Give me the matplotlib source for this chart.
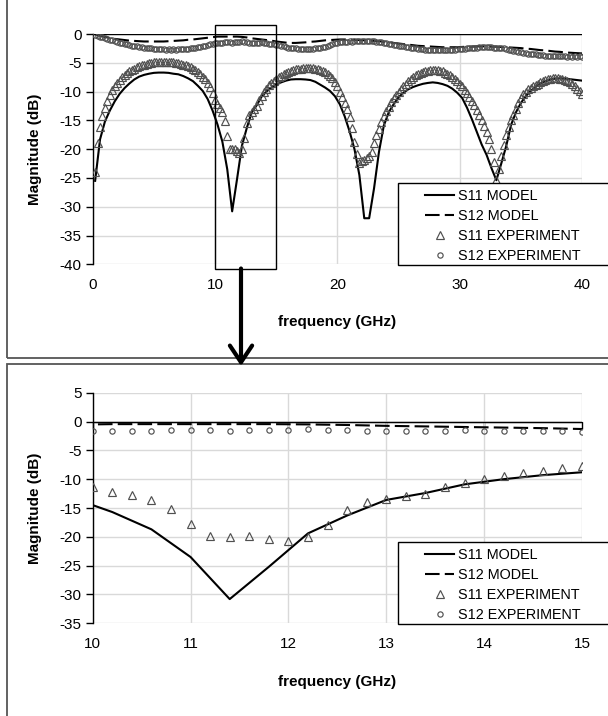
import numpy as np
import matplotlib
matplotlib.use("Agg")
import matplotlib.pyplot as plt
from matplotlib.patches import Rectangle, FancyArrowPatch
from matplotlib.lines import Line2D

plt.rcParams['font.family'] = ['Liberation Sans', 'DejaVu Sans']

# ---------------- data ----------------
model_freq = np.round(np.arange(0.2, 40.21, 0.4), 1)   # GHz
exp_freq = np.round(np.arange(0.2, 40.01, 0.2), 1)     # GHz

s11_model = [
    -25.5, -18.3, -15.2, -13.3, -11.7, -10.4, -9.4, -8.6, -7.9, -7.4,
    -7.1, -6.9, -6.75, -6.7, -6.7, -6.75, -6.9, -7.0, -7.3, -7.7,
    -8.2, -9.0, -9.9, -11.3, -13.3, -15.7, -18.7, -23.5, -30.8, -25.2,
    -19.4, -16.3, -13.6, -12.4, -10.9, -10.0, -9.3, -8.8, -8.4, -8.1,
    -7.9, -7.85, -7.85, -7.9, -8.0, -8.3, -8.8, -9.3, -9.9, -10.8,
    -12.2, -14.3, -16.9, -20.0, -24.5, -32.0, -32.0, -26.8, -20.5, -15.9,
    -13.6, -12.2, -11.0, -10.2, -9.6, -9.2, -8.9, -8.65, -8.5, -8.4,
    -8.5, -8.7, -9.0, -9.5, -10.2, -11.1, -12.8, -14.8, -17.0, -19.2,
    -21.0, -23.3, -25.4, -22.5, -19.5, -15.8, -13.6, -12.0, -10.8, -9.9,
    -9.2, -8.6, -8.2, -7.9, -7.75, -7.7, -7.75, -7.85, -7.95, -8.05,
    -8.15]

s12_model = [
    -0.1, -0.3, -0.5, -0.7, -0.85, -0.95, -1.05, -1.15, -1.2, -1.25,
    -1.3, -1.3, -1.3, -1.3, -1.3, -1.25, -1.2, -1.15, -1.1, -1.0,
    -0.95, -0.85, -0.75, -0.65, -0.55, -0.45, -0.45, -0.45, -0.45, -0.45,
    -0.5, -0.6, -0.75, -0.85, -0.95, -1.05, -1.15, -1.3, -1.4, -1.5,
    -1.55, -1.55, -1.5, -1.45, -1.35, -1.3, -1.2, -1.1, -1.05, -1.0,
    -0.95, -0.95, -0.95, -1.0, -1.05, -1.1, -1.15, -1.2, -1.25, -1.35,
    -1.45, -1.55, -1.65, -1.75, -1.85, -1.95, -2.05, -2.1, -2.15, -2.2,
    -2.25, -2.3, -2.3, -2.3, -2.3, -2.25, -2.2, -2.2, -2.15, -2.15,
    -2.15, -2.2, -2.2, -2.25, -2.3, -2.35, -2.4, -2.45, -2.55, -2.6,
    -2.7, -2.8, -2.85, -2.95, -3.05, -3.1, -3.2, -3.25, -3.3, -3.35,
    -3.4]

s11_exp = [
    -23.9, -19.0, -16.2, -14.3, -12.9, -11.6, -10.6, -9.7, -9.0, -8.5,
    -8.0, -7.5, -7.1, -6.8, -6.5, -6.25, -6.0, -5.8, -5.6, -5.45,
    -5.3, -5.2, -5.1, -5.0, -4.95, -4.9, -4.9, -4.85, -4.85, -4.85,
    -4.9, -4.9, -4.95, -5.0, -5.1, -5.2, -5.3, -5.45, -5.6, -5.8,
    -6.0, -6.3, -6.6, -7.0, -7.4, -7.9, -8.5, -9.2, -10.3, -11.4,
    -12.2, -12.8, -13.6, -15.1, -17.7, -19.9, -20.0, -19.9, -20.3, -20.7,
    -20.0, -18.0, -15.4, -14.0, -13.5, -13.0, -12.5, -11.4, -10.7, -10.0,
    -9.5, -8.9, -8.5, -8.1, -7.8, -7.5, -7.25, -7.0, -6.8, -6.6,
    -6.45, -6.3, -6.15, -6.05, -6.0, -5.95, -5.9, -5.9, -5.9, -5.95,
    -6.0, -6.1, -6.2, -6.4, -6.65, -6.95, -7.3, -7.7, -8.4, -9.1,
    -10.0, -11.0, -12.0, -13.0, -14.5, -16.3, -18.7, -20.8, -22.4, -22.0,
    -21.8, -21.5, -21.2, -20.5, -19.0, -17.6, -16.5, -15.2, -14.2, -13.4,
    -12.6, -11.8, -11.1, -10.6, -10.1, -9.6, -9.1, -8.6, -8.2, -7.8,
    -7.5, -7.2, -7.0, -6.8, -6.6, -6.45, -6.35, -6.25, -6.2, -6.2,
    -6.25, -6.35, -6.5, -6.7, -6.9, -7.15, -7.45, -7.75, -8.1, -8.6,
    -9.1, -9.7, -10.2, -10.9, -11.6, -12.4, -13.2, -14.0, -14.9, -16.0,
    -17.1, -18.3, -20.0, -22.3, -25.3, -23.5, -21.2, -19.3, -17.6, -16.2,
    -15.0, -14.0, -13.0, -12.0, -11.1, -10.5, -10.0, -9.6, -9.3, -9.0,
    -8.8, -8.6, -8.4, -8.2, -8.0, -7.9, -7.8, -7.7, -7.65, -7.7,
    -7.8, -7.9, -8.0, -8.2, -8.4, -8.7, -9.1, -9.5, -9.9, -10.4]

s12_exp = [
    -0.15, -0.3, -0.45, -0.6, -0.7, -0.85, -1.0, -1.1, -1.25, -1.4,
    -1.5, -1.6, -1.7, -1.8, -1.9, -2.0, -2.05, -2.15, -2.25, -2.3,
    -2.35, -2.45, -2.5, -2.5, -2.55, -2.6, -2.65, -2.6, -2.65, -2.7,
    -2.65, -2.7, -2.65, -2.7, -2.65, -2.6, -2.65, -2.55, -2.55, -2.5,
    -2.45, -2.4, -2.3, -2.25, -2.1, -2.0, -1.9, -1.8, -1.7, -1.57,
    -1.57, -1.57, -1.6, -1.45, -1.45, -1.45, -1.6, -1.45, -1.45, -1.45,
    -1.27, -1.45, -1.45, -1.6, -1.57, -1.57, -1.6, -1.57, -1.45, -1.57,
    -1.6, -1.7, -1.7, -1.7, -1.85, -1.95, -2.05, -2.15, -2.25, -2.35,
    -2.4, -2.45, -2.5, -2.55, -2.6, -2.6, -2.65, -2.6, -2.6, -2.55,
    -2.5, -2.45, -2.4, -2.3, -2.2, -2.05, -1.9, -1.75, -1.6, -1.5,
    -1.45, -1.4, -1.35, -1.35, -1.3, -1.35, -1.3, -1.25, -1.25, -1.2,
    -1.25, -1.2, -1.25, -1.3, -1.3, -1.35, -1.4, -1.45, -1.5, -1.6,
    -1.7, -1.8, -1.85, -1.95, -2.0, -2.1, -2.15, -2.25, -2.3, -2.4,
    -2.45, -2.5, -2.55, -2.6, -2.65, -2.7, -2.7, -2.75, -2.75, -2.75,
    -2.8, -2.75, -2.75, -2.8, -2.75, -2.75, -2.7, -2.7, -2.65, -2.6,
    -2.55, -2.55, -2.5, -2.45, -2.4, -2.35, -2.35, -2.3, -2.3, -2.25,
    -2.3, -2.25, -2.3, -2.35, -2.35, -2.4, -2.45, -2.5, -2.6, -2.7,
    -2.8, -2.9, -3.0, -3.1, -3.15, -3.25, -3.3, -3.4, -3.45, -3.5,
    -3.55, -3.6, -3.65, -3.7, -3.75, -3.75, -3.8, -3.8, -3.85, -3.85,
    -3.9, -3.85, -3.9, -3.95, -3.9, -3.95, -3.9, -3.95, -3.9, -3.95]

series_labels = ["S11 MODEL", "S12 MODEL", "S11 EXPERIMENT", "S12 EXPERIMENT"]
top_xticks = [0, 10, 20, 30, 40]
top_yticks = [0, -5, -10, -15, -20, -25, -30, -35, -40]
bot_xticks = [10, 11, 12, 13, 14, 15]
bot_yticks = [5, 0, -5, -10, -15, -20, -25, -30, -35]
zoom_box = (10, 15)
xlabel = "frequency (GHz)"
ylabel = "Magnitude (dB)"

# ---------------- figure ----------------
W, H = 608, 716
fig = plt.figure(figsize=(W / 100, H / 100), dpi=100)


def fx(px):
    return px / W


def fy(py):
    return 1 - py / H


GRID = '#d9d9d9'
MK = '#505050'
AX_L, AX_R = 92.7, 582.0
TRI = dict(ls='none', marker='^', ms=6.3, mfc='none', mec=MK, mew=0.85)
CIR = dict(ls='none', marker='o', ms=3.8, mfc='none', mec=MK, mew=0.85)
DASH = (7, 2.5)


def draw_panel(top, bottom, xlim, ylim, xticks, yticks):
    ax = fig.add_axes([fx(AX_L), fy(bottom), (AX_R - AX_L) / W, (bottom - top) / H])
    ax.plot(model_freq, s11_model, color='black', lw=1.5, zorder=3)
    ax.plot(model_freq, s12_model, color='black', lw=1.5, dashes=DASH, zorder=3)
    ax.plot(exp_freq, s11_exp, zorder=4, **TRI)
    ax.plot(exp_freq, s12_exp, zorder=4, **CIR)
    ax.set_xlim(*xlim)
    ax.set_ylim(*ylim)
    ax.set_xticks(xticks)
    ax.set_yticks(yticks)
    ax.set_xticklabels([str(v) for v in xticks])
    ax.set_yticklabels([str(v) for v in yticks])
    ax.grid(True, color=GRID, lw=1)
    ax.set_axisbelow(True)
    for s in ['top', 'right', 'bottom']:
        ax.spines[s].set_visible(False)
    ax.spines['left'].set_color('black')
    ax.spines['left'].set_linewidth(1)
    ax.tick_params(axis='y', direction='out', length=5, width=1, color='black',
                   labelsize=11, pad=3)
    ax.tick_params(axis='x', length=0, labelsize=11, pad=10)
    # horizontal axis line at 0 dB
    ax.axhline(0, color='black', lw=1, zorder=2.5)
    return ax


ax1 = draw_panel(34.0, 264.3, (0, 40), (-40, 0), top_xticks, top_yticks)
ax2 = draw_panel(392.7, 623.3, (10, 15), (-35, 5), bot_xticks, bot_yticks)

# tick marks on the 0 dB axis of the lower panel
sec = ax2.secondary_xaxis(35 / 40)
sec.set_xticks(bot_xticks)
sec.tick_params(axis='x', direction='in', length=5, width=1, color='black',
                labeltop=False, labelbottom=False)
sec.spines['top'].set_color('black')
sec.spines['bottom'].set_visible(False)

# zoom rectangle on upper panel
ax1.add_patch(Rectangle((zoom_box[0], -40.75), zoom_box[1] - zoom_box[0], 42.3,
                        fill=False, ec='black', lw=1, clip_on=False, zorder=5))

# axis labels
for ycen in (149, 508):
    fig.text(fx(35), fy(ycen), ylabel, rotation=90, ha='center', va='center',
             fontsize=11, fontweight='bold')
for ycen in (322, 682):
    fig.text(fx(337), fy(ycen), xlabel, ha='center', va='center',
             fontsize=11, fontweight='bold')

# legends (frame drawn as a box reaching past the right edge)
handles = [
    Line2D([], [], color='black', lw=1.5),
    Line2D([], [], color='black', lw=1.5, dashes=DASH),
    Line2D([], [], **TRI),
    Line2D([], [], **CIR),
]
for ax, box_top in ((ax1, 183.0), (ax2, 542.0)):
    fig.add_artist(Rectangle((fx(398), fy(box_top + 82)), (640 - 398) / W, 82 / H,
                             transform=fig.transFigure, fill=True, fc='white',
                             ec='black', lw=1, zorder=6))
    leg = fig.legend(handles, series_labels, loc='upper left',
                     bbox_to_anchor=(fx(418), fy(box_top - 1.5)),
                     bbox_transform=fig.transFigure, frameon=False, fontsize=10.4,
                     handlelength=2.0, handletextpad=0.3, borderpad=0,
                     labelspacing=0.42, numpoints=1)
    leg.set_zorder(7)

# panel frames
fig.add_artist(Rectangle((fx(7), fy(357.5)), (640 - 7) / W, (357.5 + 10) / H,
                         transform=fig.transFigure, fill=False, ec='#555555', lw=1.3))
fig.add_artist(Rectangle((fx(7), fy(740)), (640 - 7) / W, (740 - 363.5) / H,
                         transform=fig.transFigure, fill=False, ec='#555555', lw=1.3))

# arrow from zoom box to lower panel
arrow = FancyArrowPatch((fx(241), fy(268.5)), (fx(241), fy(366)),
                        transform=fig.transFigure,
                        arrowstyle='->,head_length=0.6,head_width=0.4',
                        mutation_scale=20, lw=3, color='black',
                        shrinkA=0, shrinkB=0, zorder=8)
fig.add_artist(arrow)

fig.savefig('out.png', dpi=100)
